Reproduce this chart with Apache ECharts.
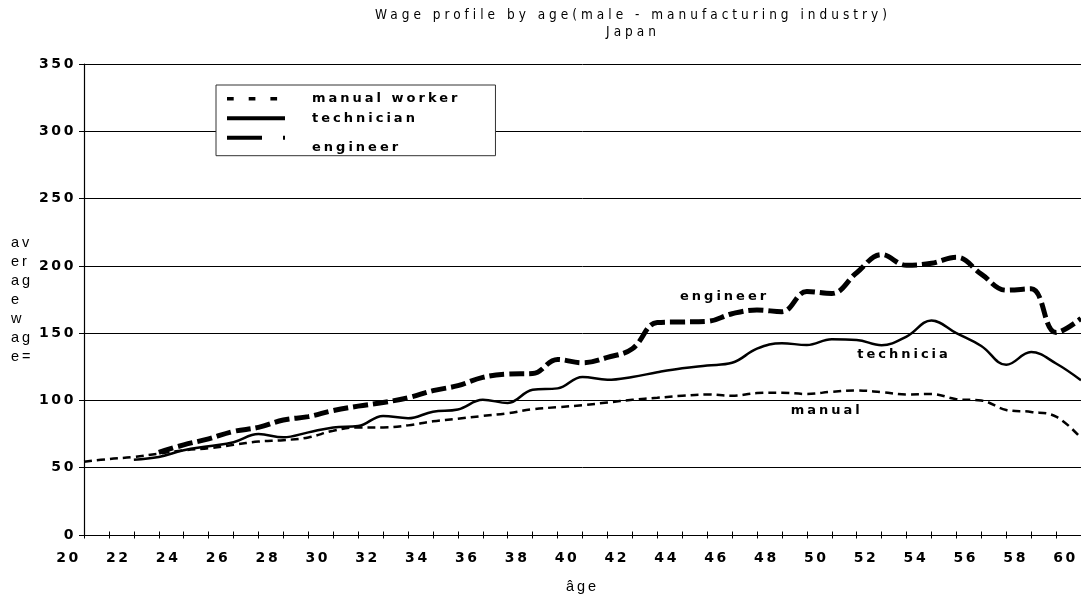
<!DOCTYPE html>
<html>
<head>
<meta charset="utf-8">
<script src="https://cdn.jsdelivr.net/npm/echarts@6/dist/echarts.min.js"></script>
<style>
html, body { margin: 0; padding: 0; background: #fff; }
#chart { width: 1081px; height: 601px; }
</style>
</head>
<body>
<div id="chart"></div>
<script>
// ---------------- data ----------------
const ages = [20,21,22,23,24,25,26,27,28,29,30,31,32,33,34,35,36,37,38,39,40,
              41,42,43,44,45,46,47,48,49,50,51,52,53,54,55,56,57,58,59,60];

const manualWorker = [54.5,56.5,58,60.5,63,64.5,67,69.5,70.5,72.5,77.5,80,80,81.5,84.5,86.5,88.5,90.5,93.5,95,96.5,
                      98.5,100.5,102,103.5,104.5,103.5,105.5,105.8,104.8,106.5,107.5,106.2,104.5,104.8,101,100,93,91.5,88,72];

const technician = [null,null,56,58,63,66,69,75,72.7,76.3,80,81,88.5,86.8,91.7,93.3,100.5,98.2,108,109,117.5,
                    115.4,117.5,121,124,126,128,138.5,142.6,141.2,145.5,145,141.1,147.5,159.5,150,140.5,126.5,136,127.5,115];

const engineer = [null,null,null,61.5,67,71.5,77,80,85.5,88,92.5,95.8,98.5,102,107.3,111,117.2,119.6,120,130.5,128,
                  132,138.5,158,158.4,158.8,164.5,167.3,166,181,179.6,195,208.5,200.5,202,206.5,194,182,183,150.5,161];

const seriesNames = ['manual worker', 'technician', 'engineer'];
const xTickLabels = [20,22,24,26,28,30,32,34,36,38,40,42,44,46,48,50,52,54,56,58,60];
const yTickValues = [0,50,100,150,200,250,300,350];

// in-plot labels
const curveLabelText  = ['manual', 'technicia', 'engineer'];
const curveLabelAge   = [49.8, 52.9, 45.7];
const curveLabelValue = [92.2, 134.4, 177.4];

const titleText = 'Wage profile by age(male - manufacturing industry)\nJapan';
const yAxisTitle = 'av\ner\nag\ne\nw\nag\ne=';
const xAxisTitle = 'âge';

// ---------------- letter spacing per font size (canvas) ----------------
const SPACING = [
  [/(^|\s)14px/, '2.6px'],     // tick labels
  [/(^|\s)13px/, '3px'],       // legend & curve labels
  [/(^|\s)13\.5px/, '4px'],    // title
  [/(^|\s)14\.5px/, '3px']     // axis titles
];
(function () {
  const P = window.CanvasRenderingContext2D && CanvasRenderingContext2D.prototype;
  if (!P || !('letterSpacing' in P)) return;
  function apply(ctx) {
    const f = ctx.font;
    let ls = '0px';
    for (let i = 0; i < SPACING.length; i++) {
      if (SPACING[i][0].test(f)) { ls = SPACING[i][1]; break; }
    }
    if (ctx.letterSpacing !== ls) ctx.letterSpacing = ls;
  }
  const ft = P.fillText, mt = P.measureText;
  P.fillText = function () { apply(this); return ft.apply(this, arguments); };
  P.measureText = function () { apply(this); return mt.apply(this, arguments); };
})();

// ---------------- chart ----------------
const BOLD = '"DejaVu Sans", "Liberation Sans", sans-serif';
const REG = '"Liberation Sans", Arial, sans-serif';
const NARROW = '"Liberation Sans Narrow", "DejaVu Sans Condensed", "Liberation Sans", sans-serif';

const chart = echarts.init(document.getElementById('chart'), null, { renderer: 'canvas' });

function pairs(arr) { return ages.map((a, i) => [a, arr[i]]); }

const lineStyles = [
  { color: '#000', width: 2.5, type: [8, 5] },
  { color: '#000', width: 2.5, type: 'solid' },
  { color: '#000', width: 5, type: [15, 5] }
];
const legendLineStyles = [
  { color: '#000', width: 3.5, type: [6.7, 15], cap: 'butt' },
  { color: '#000', width: 4, type: 'solid', cap: 'butt' },
  { color: '#000', width: 4, type: [35, 21], cap: 'butt' }
];
const seriesData = [manualWorker, technician, engineer];
const legendTextFont = { fontFamily: BOLD, fontSize: 13, fontWeight: 'bold', color: '#000', lineHeight: 14 };

const option = {
  animation: false,
  backgroundColor: '#fff',
  color: ['#000', '#000', '#000'],
  title: [
    {
      text: titleText, left: 628, top: 2, textAlign: 'center',
      textStyle: { fontFamily: NARROW, fontSize: 13.5, fontWeight: 'normal', color: '#000', lineHeight: 17 }
    },
    {
      text: yAxisTitle, left: 6, top: 228, textAlign: 'left',
      textStyle: { fontFamily: REG, fontSize: 14.5, fontWeight: 'normal', color: '#000', lineHeight: 19 }
    }
  ],
  legend: {
    orient: 'vertical', left: 216, top: 85,
    padding: [5.7, 35, 0, 9],
    itemWidth: 58, itemHeight: 14, itemGap: 3.5,
    backgroundColor: '#fff', borderColor: '#333', borderWidth: 1, borderRadius: 0,
    selectedMode: false,
    formatter: name => (name === 'engineer' ? '{low|' + name + '}' : '{n|' + name + '}'),
    textStyle: Object.assign({}, legendTextFont, {
      padding: [0, 0, 0, 22],
      rich: {
        n: Object.assign({}, legendTextFont),
        low: Object.assign({}, legendTextFont, { padding: [10, 0, -10, 0] })
      }
    }),
    data: seriesNames.map((n, i) => ({
      name: n,
      lineStyle: legendLineStyles[i],
      itemStyle: { color: 'rgba(0,0,0,0)', borderWidth: 0, opacity: 0 }
    }))
  },
  grid: { left: 84, right: -3, top: 64.2, bottom: 64.5, containLabel: false },
  xAxis: [
    {
      type: 'value', min: 20, max: 60, interval: 1,
      name: xAxisTitle, nameLocation: 'middle', nameGap: 43,
      nameTextStyle: { fontFamily: REG, fontSize: 14.5, color: '#000' },
      axisLine: { show: true, onZero: false, lineStyle: { color: '#000', width: 1.2 } },
      axisTick: { show: true, length: 3.5, lineStyle: { color: '#000', width: 1 } },
      splitLine: { show: false },
      axisLabel: {
        show: true, margin: 15, color: '#000', fontFamily: BOLD, fontSize: 14, fontWeight: 'bold',
        padding: [0, 31, 0, 0],
        formatter: v => (xTickLabels.indexOf(v) >= 0 ? String(v) : '')
      }
    },
    {
      type: 'value', min: 20, max: 60, interval: 1, position: 'bottom', gridIndex: 0,
      axisLine: { show: false },
      axisTick: { show: true, inside: true, length: 3.5, lineStyle: { color: '#000', width: 1 } },
      axisLabel: { show: false }, splitLine: { show: false }
    }
  ],
  yAxis: {
    type: 'value', min: yTickValues[0], max: yTickValues[yTickValues.length - 1], interval: 50,
    axisLine: { show: true, lineStyle: { color: '#000', width: 1.2 } },
    axisTick: { show: true, length: 5, lineStyle: { color: '#000', width: 1 } },
    splitLine: { show: true, lineStyle: { color: '#000', width: 1 } },
    axisLabel: { margin: 8, color: '#000', fontFamily: BOLD, fontSize: 14, fontWeight: 'bold' }
  },
  series: seriesNames.map((n, i) => ({
    name: n, type: 'line', xAxisIndex: 0, yAxisIndex: 0,
    data: pairs(seriesData[i]),
    smooth: 0.4, showSymbol: false, symbol: 'none', connectNulls: false,
    lineStyle: lineStyles[i],
    itemStyle: { color: '#000' },
    z: 3 + i,
    markPoint: {
      symbol: 'circle', symbolSize: 0, silent: true, animation: false,
      itemStyle: { color: 'rgba(0,0,0,0)' },
      label: { show: true, position: 'inside', color: '#000', fontFamily: BOLD, fontSize: 13, fontWeight: 'bold',
               formatter: p => p.name },
      data: [{ name: curveLabelText[i], coord: [curveLabelAge[i], curveLabelValue[i]] }]
    }
  }))
};

chart.setOption(option);
</script>
</body>
</html>
